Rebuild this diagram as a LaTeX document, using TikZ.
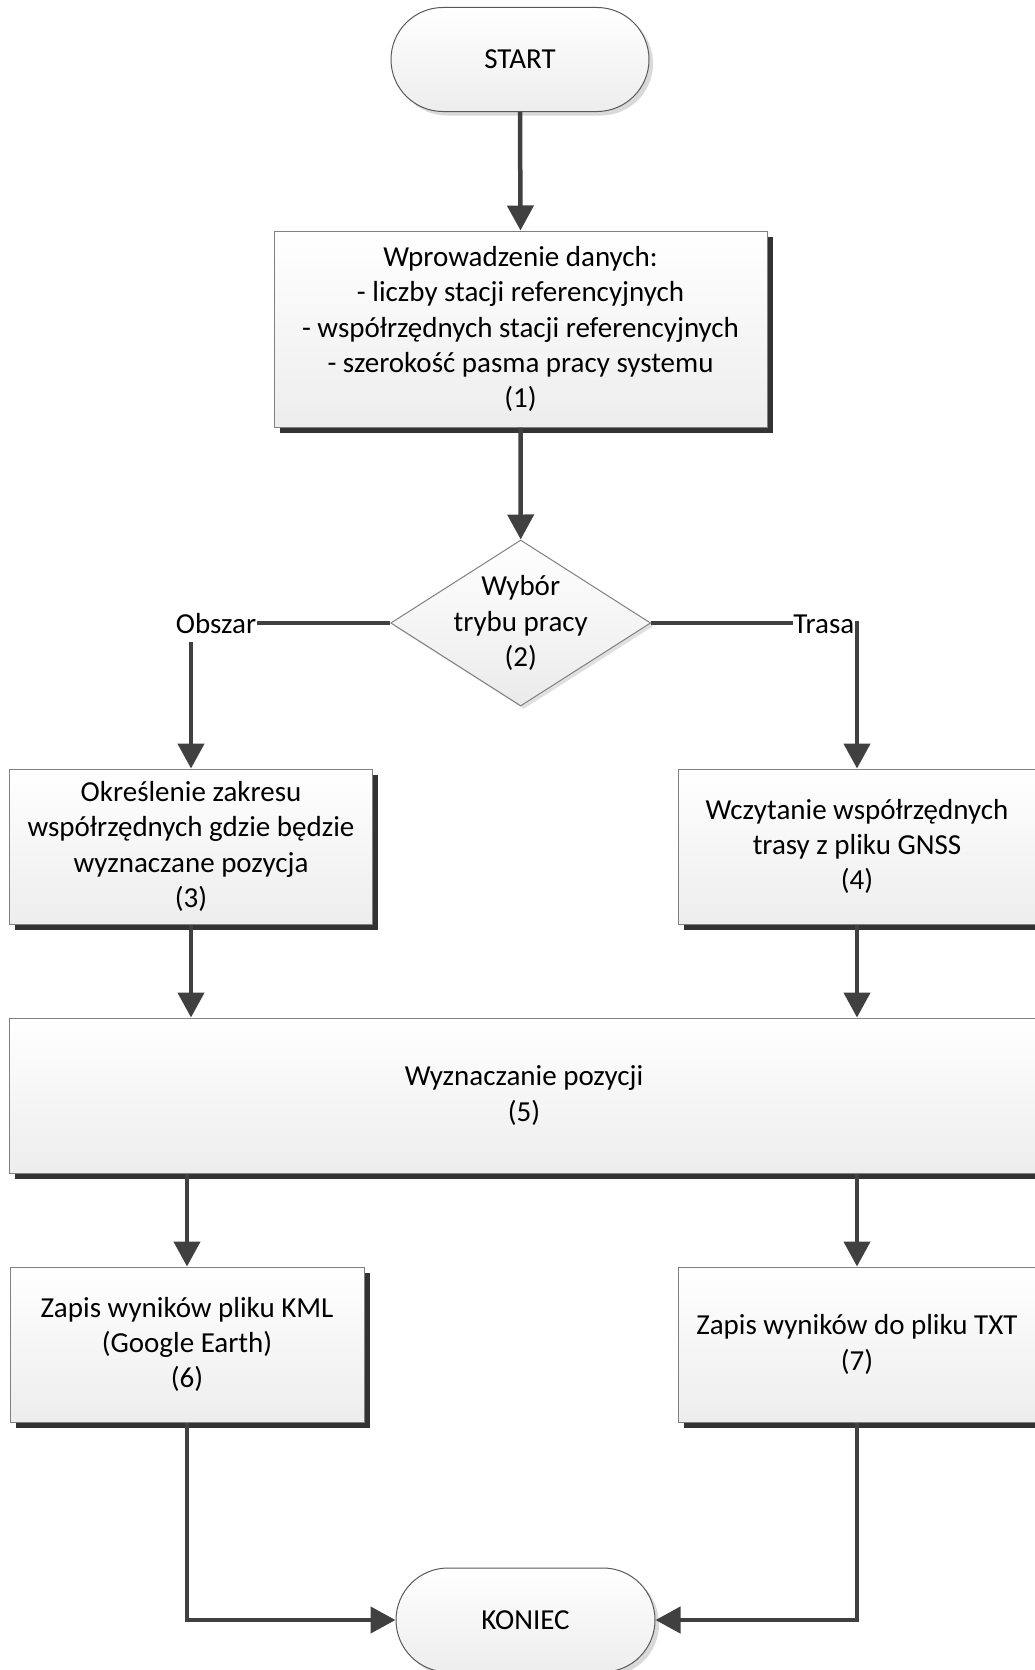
\documentclass[tikz,border=0pt]{standalone}
\usepackage{fontspec}
\setmainfont{Carlito}
\usetikzlibrary{arrows.meta,shapes.geometric,shapes.misc,shadows}
\begin{document}
\begin{tikzpicture}[x=1pt,y=-1pt,
  every node/.style={font=\fontsize{29}{35.3}\selectfont, text=black},
  proc/.style={rectangle, draw=black!50, line width=1pt, top color=white, bottom color=black!7,
    drop shadow={shadow xshift=5.5pt, shadow yshift=-5.5pt, fill=black!80, opacity=1},
    align=center, inner sep=0pt},
  term/.style={rounded rectangle, draw=black!65, line width=1pt, top color=white, bottom color=black!7,
    drop shadow={shadow xshift=4pt, shadow yshift=-4pt, fill=black!15, opacity=1},
    inner sep=0pt},
  decis/.style={diamond, draw=black!50, line width=1pt, top color=white, bottom color=black!8,
    drop shadow={shadow xshift=3pt, shadow yshift=-3pt, fill=black!12, opacity=1},
    inner sep=0pt, minimum width=260pt, minimum height=166pt},
  conn/.style={line width=4.5pt, draw=black!75, -{Triangle[length=25pt,width=26pt]}},
  lbl/.style={fill=white, inner xsep=1pt, inner ysep=0pt, text height=27pt, text depth=9pt}
]
\useasboundingbox (0,0) rectangle (1035,1670);

\node[term, minimum width=258pt, minimum height=104pt] (start) at (520,59.5) {START};
\node[proc, minimum width=493pt, minimum height=196pt] (b1) at (520.5,329)
  {Wprowadzenie danych:\\- liczby stacji referencyjnych\\- współrzędnych stacji referencyjnych\\- szerokość pasma pracy systemu\\(1)};
\node[decis] (dec) at (520.7,623) {};
\node[align=center, inner sep=0pt] (dect) at (520.7,623) {Wybór\\trybu pracy\\(2)};
\node[proc, minimum width=363pt, minimum height=155pt] (b3) at (191,846.5)
  {Określenie zakresu\\współrzędnych gdzie będzie\\wyznaczane pozycja\\(3)};
\node[proc, minimum width=358pt, minimum height=155pt] (b4) at (857,846.5)
  {Wczytanie współrzędnych\\trasy z pliku GNSS\\(4)};
\node[proc, minimum width=1029pt, minimum height=155pt] (b5) at (524,1095.5)
  {Wyznaczanie pozycji\\(5)};
\node[proc, minimum width=354pt, minimum height=155pt] (b6) at (187,1344.5)
  {Zapis wyników pliku KML\\(Google Earth)\\(6)};
\node[proc, minimum width=358pt, minimum height=155pt] (b7) at (857,1344.5)
  {Zapis wyników do pliku TXT\\(7)};
\node[term, minimum width=259pt, minimum height=104pt] (end) at (525.5,1620) {KONIEC};

\draw[conn] (start.south) -- (b1.north);
\draw[conn] (b1.south) -- (dec.north);
\draw[conn] (dec.west) -| (b3.north);
\draw[conn] (dec.east) -| (b4.north);
\draw[conn] (b3.south) -- (b3.south |- b5.north);
\draw[conn] (b4.south) -- (b4.south |- b5.north);
\draw[conn] (b6.north |- b5.south) -- (b6.north);
\draw[conn] (b7.north |- b5.south) -- (b7.north);
\draw[conn] (b6.south) |- (end.west);
\draw[conn] (b7.south) |- (end.east);

\node[lbl] (obs) at (216,624) {Obszar};
\node[lbl, anchor=east, inner xsep=0.5pt] (tr) at (855,624) {Trasa};
\end{tikzpicture}
\end{document}
